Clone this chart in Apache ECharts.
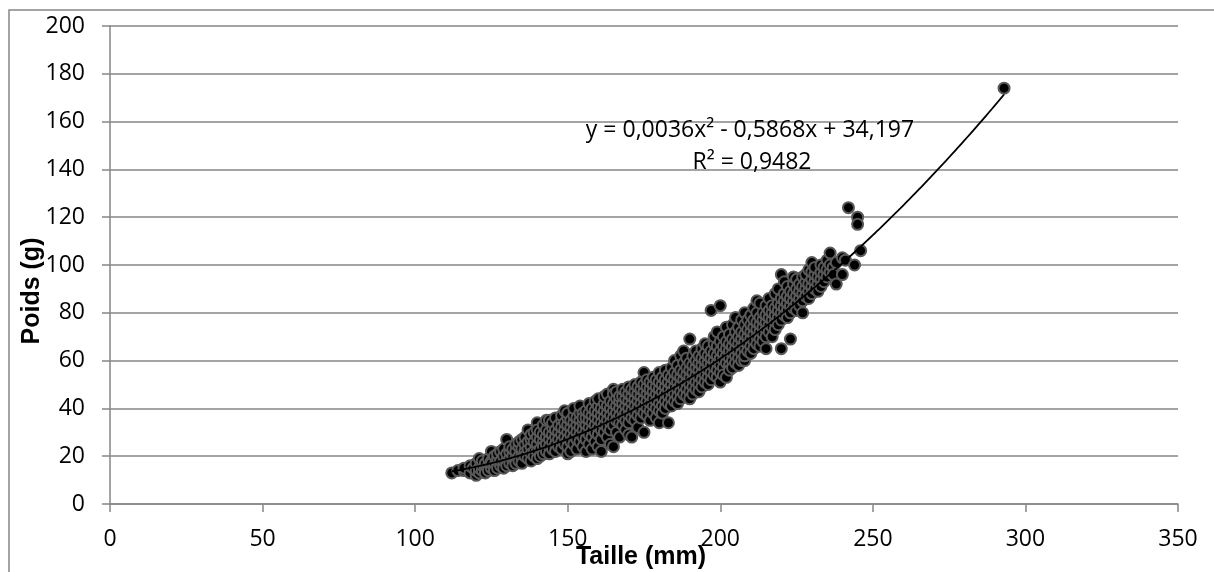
<!DOCTYPE html>
<html>
<head>
<meta charset="utf-8">
<script src="https://cdn.jsdelivr.net/npm/echarts@6/dist/echarts.min.js"></script>
<style>
html,body{margin:0;padding:0;background:#fff;}
#chart{width:1214px;height:572px;}
</style>
</head>
<body>
<div id="chart"></div>
<script>
// Taille (mm) values, and the Poids (g) values observed at each taille
const taille = [
  112,114,116,118,119,120,121,122,123,124,125,126,127,128,129,
  130,131,132,133,134,135,136,137,138,139,
  140,141,142,143,144,145,146,147,148,149,
  150,151,152,153,154,155,156,157,158,159,
  160,161,162,163,164,165,166,167,168,169,
  170,171,172,173,174,175,176,177,178,179,
  180,181,182,183,184,185,186,187,188,189,
  190,191,192,193,194,195,196,197,198,199,
  200,201,202,203,204,205,206,207,208,209,
  210,211,212,213,214,215,216,217,218,219,
  220,221,222,223,224,225,226,227,228,229,
  230,231,232,233,234,235,236,237,238,240,
  241,242,244,245,246,293
];
const poids = [
  [13],[14],[14,15],[13,16],[15],[12,14,17],[13,19,15],[14,16,18],[15,17,13],[16,19,14],[15,18,22,17],[16,20,14],[17,19,15,21],[16,18,22],[17,20,15,23],
  [27,18,21,16],[19,22,17,24],[18,20,23,16],[19,22,25,17],[24,20,18,26],[21,23,19,27,17],[22,25,20,28],[31,23,19,26],[24,21,27,18,29],[22,26,30,20],
  [34,25,22,28,19,31],[23,27,30,20],[26,29,24,33,21],[28,25,22,31,35],[35,27,24,30,21],[29,26,32,23,34],[28,25,31,36,22],[30,27,33,24],[29,26,35,32,23,37],[39,31,28,25,34],
  [21,30,33,27,36,24,38],[32,29,35,26,22],[34,31,28,37,25,40],[33,30,36,27,23],[35,32,29,38,26,41],[38,34,31,28,24,36],[22,33,36,30,39,27],[35,32,38,29,42,25],[37,34,31,40,28,23],[43,36,33,39,30,26],
  [38,35,32,41,29,44,24],[22,37,34,40,31,27],[39,36,42,33,30,45],[38,35,41,32,28,46],[40,37,43,34,31,25],[48,46,24,39,36,42,33],[41,38,44,35,30,47],[40,37,43,34,45,28],[42,39,36,45,33,48],[41,38,44,35,47,31],
  [43,40,37,46,49,34,29],[28,42,39,45,36,48],[44,41,38,47,35,50],[43,40,46,37,49,32],[45,42,39,48,36,51],[55,44,41,47,38,50,30],[46,43,40,49,37,52],[45,42,48,39,51,35],[47,44,41,50,38,53],[46,43,49,40,52,36],
  [34,48,45,42,51,39,55],[47,44,50,41,53,38],[49,46,43,52,40,56],[34,48,45,51,42,54],[50,47,44,53,41,57],[49,46,52,43,55,60],[51,48,45,54,42,58],[50,47,53,44,56,62],[64,52,49,46,55,59],[51,48,54,45,57,61],
  [69,53,50,47,56,59,44],[52,55,49,58,62,46],[54,51,57,48,60,64],[56,53,59,50,62,47],[55,52,58,61,49,65],[57,54,60,51,63,67],[56,59,53,62,50,66],[81,58,55,61,52,64],[60,57,63,54,67,70],[59,56,62,66,53,72],
  [83,61,58,64,55,68,51],[60,63,57,66,70,54],[53,62,59,65,68,74],[61,64,58,67,71,56],[63,60,66,69,75,57],[62,65,68,59,72,78],[64,67,61,70,74,58],[66,63,69,72,60,77],[60,65,68,71,75,62,80],[67,70,64,73,77],
  [69,66,72,75,63,79],[71,68,74,77,65,82],[85,70,73,67,76,80],[72,75,69,78,66,84],[74,71,77,80,68],[73,76,79,70,83,65],[75,78,72,81,86],[77,74,80,83,70],[76,79,82,73,88],[78,81,84,75,90],
  [96,65,80,83,77,86],[82,79,85,88,93],[81,84,87,78,91],[69,83,86,89,80],[85,88,82,92,95],[84,87,90,81,94],[86,89,92,83],[80,88,91,85,95],[90,87,93,96],[89,92,86,98],
  [101,91,94,88,97],[93,90,96,99],[92,95,89],[94,97,100,91],[96,93,99],[98,95,102],[105,97,100],[99,96],[92,101],[96,103],
  [102],[124],[100],[120,117],[106],[174]
];
// Polynomial trendline shown on the chart: y = a x^2 + b x + c
const trendCoef = [0.0036, -0.5868, 34.197];
const trendRange = [112, 293];
const equationText = 'y = 0,0036x² - 0,5868x + 34,197';
const r2Text = 'R² = 0,9482';
const xTicks = { min: 0, max: 350, interval: 50 };
const yTicks = { min: 0, max: 200, interval: 20 };

const points = [];
taille.forEach((t, i) => poids[i].forEach(p => points.push([t, p])));
const trend = [];
for (let x = trendRange[0]; x <= trendRange[1]; x += 1) {
  trend.push([x, trendCoef[0] * x * x + trendCoef[1] * x + trendCoef[2]]);
}

const chart = echarts.init(document.getElementById('chart'), null, { renderer: 'canvas' });
const gray = '#868686';
const labelFont = 'Open Sans';
chart.setOption({
  animation: false,
  backgroundColor: '#fff',
  grid: { left: 110, right: 36, top: 26, bottom: 68, containLabel: false },
  xAxis: {
    type: 'value', min: xTicks.min, max: xTicks.max, interval: xTicks.interval,
    axisLine: { show: true, onZero: false, lineStyle: { color: gray, width: 1.5 } },
    axisTick: { show: true, length: 8, lineStyle: { color: gray, width: 1.5 } },
    splitLine: { show: false },
    axisLabel: { fontSize: 23, color: '#000', fontFamily: labelFont, margin: 24 }
  },
  yAxis: {
    type: 'value', min: yTicks.min, max: yTicks.max, interval: yTicks.interval,
    axisLine: { show: true, onZero: false, lineStyle: { color: gray, width: 1.5 } },
    axisTick: { show: true, length: 8, lineStyle: { color: gray, width: 1.5 } },
    splitLine: { show: true, lineStyle: { color: gray, width: 1.5 } },
    axisLabel: { fontSize: 23, color: '#000', fontFamily: labelFont, margin: 25 }
  },
  graphic: [
    { type: 'rect', shape: { x: 9, y: 10, width: 1400, height: 1000 }, style: { fill: 'none', stroke: gray, lineWidth: 1.5 }, silent: true, z: -1 },
    { type: 'text', x: 32, y: 291, rotation: Math.PI / 2,
      style: { text: 'Poids (g)', font: 'bold 25px "Liberation Sans", Arial', fill: '#000', align: 'center', verticalAlign: 'middle' } },
    { type: 'text', x: 641, y: 557,
      style: { text: 'Taille (mm)', font: 'bold 25px "Liberation Sans", Arial', fill: '#000', align: 'center', verticalAlign: 'middle' } },
    { type: 'text', x: 750, y: 130, z: 100,
      style: { text: equationText, font: '23px "Open Sans"', fill: '#000', align: 'center', verticalAlign: 'middle' } },
    { type: 'text', x: 752, y: 162, z: 100,
      style: { text: r2Text, font: '23px "Open Sans"', fill: '#000', align: 'center', verticalAlign: 'middle' } }
  ],
  series: [
    {
      type: 'scatter', data: points, symbol: 'circle', symbolSize: 11,
      itemStyle: { color: '#000', borderColor: '#595959', borderWidth: 2, opacity: 1 },
      z: 2
    },
    {
      type: 'line', data: trend, showSymbol: false, smooth: false,
      lineStyle: { color: '#000', width: 1.8 }, z: 3
    }
  ]
});
</script>
</body>
</html>
